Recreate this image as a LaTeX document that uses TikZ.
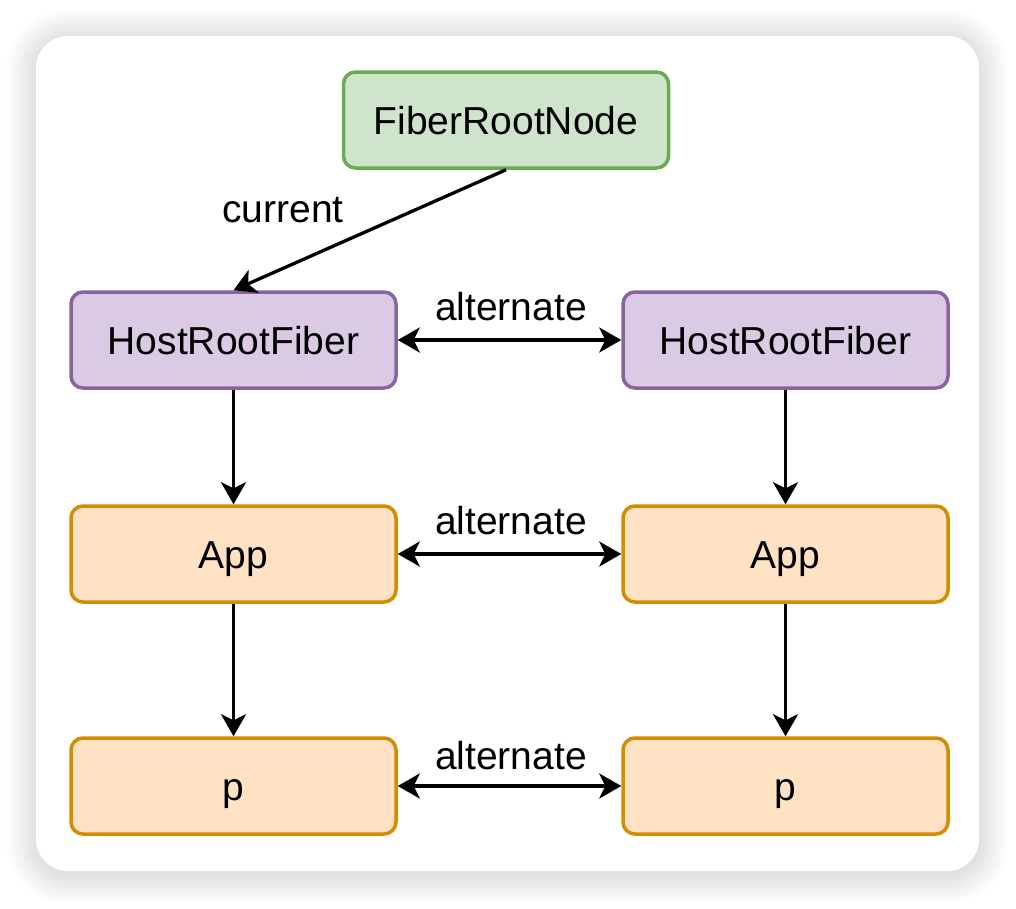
\documentclass[tikz,border=0pt]{standalone}
\usepackage{fontspec}
\setmainfont{Liberation Sans}
\usetikzlibrary{arrows.meta}
\definecolor{gfill}{HTML}{CEE4CB}
\definecolor{gline}{HTML}{6EA853}
\definecolor{pfill}{HTML}{DACAE3}
\definecolor{pline}{HTML}{8A639D}
\definecolor{ofill}{HTML}{FFE2C4}
\definecolor{oline}{HTML}{D38D00}
\tikzset{
  box/.style={rectangle, rounded corners=12pt, line width=3.5pt, minimum width=325pt, minimum height=96pt,
    inner sep=0pt, text height=28pt, text depth=0pt, font=\fontsize{39}{46}\selectfont},
  greenbox/.style={box, draw=gline, fill=gfill},
  purplebox/.style={box, draw=pline, fill=pfill},
  orangebox/.style={box, draw=oline, fill=ofill},
  conn/.style={line width=3.3pt, -{Stealth[length=22pt,width=25pt,inset=6pt]}},
  biconn/.style={line width=3.3pt, {Stealth[length=22pt,width=25pt,inset=6pt]}-{Stealth[length=22pt,width=25pt,inset=6pt]}},
  lbl/.style={anchor=base, inner sep=0pt, font=\fontsize{39}{46}\selectfont}
}
\begin{document}
\begin{tikzpicture}[x=1pt,y=-1pt]
\useasboundingbox (0,0) rectangle (1016,908);
% shadow
\foreach \i in {1,...,30}{
  \fill[black, opacity=0.005, rounded corners=32+\i] (36-\i,36-\i+3) rectangle (979+\i,871+\i+3);
}
% card
\fill[white, rounded corners=32pt] (36,36) rectangle (979,871);
% nodes
\node[greenbox] (frn) at (506,120) {FiberRootNode};
\node[purplebox] (hl) at (233.5,340) {HostRootFiber};
\node[purplebox] (hr) at (785.5,340) {HostRootFiber};
\node[orangebox] (al) at (233.5,554) {App};
\node[orangebox] (ar) at (785.5,554) {App};
\node[orangebox] (pl) at (233.5,786) {p};
\node[orangebox] (pr) at (785.5,786) {p};
% connectors
\draw[conn] (frn.south) -- (hl.north);
\draw[conn] (hl.south) -- (al.north);
\draw[conn] (al.south) -- (pl.north);
\draw[conn] (hr.south) -- (ar.north);
\draw[conn] (ar.south) -- (pr.north);
\draw[biconn] (hl.east) -- (hr.west);
\draw[biconn] (al.east) -- (ar.west);
\draw[biconn] (pl.east) -- (pr.west);
% labels
\node[lbl] (lcur) at (283,222) {current};
\node[lbl] (la1) at (511,320) {alternate};
\node[lbl] (la2) at (511,534) {alternate};
\node[lbl] (la3) at (511,769) {alternate};
\end{tikzpicture}
\end{document}
